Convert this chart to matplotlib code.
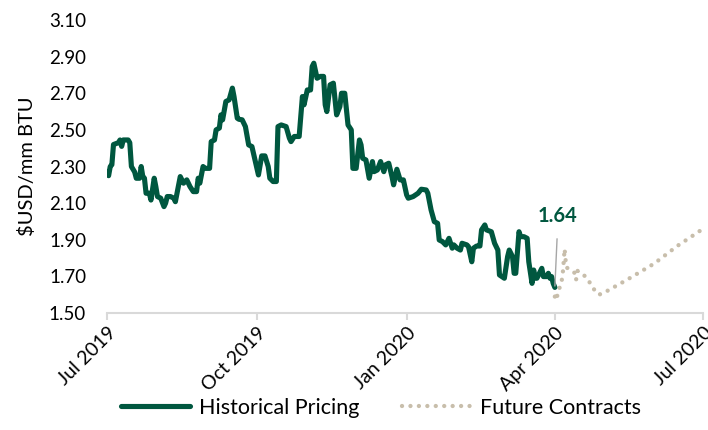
import matplotlib
matplotlib.use("Agg")
import matplotlib.pyplot as plt
import matplotlib.dates as mdates
import pandas as pd

# ---------------- data ----------------
hist_dates = [
    "2019-07-01", "2019-07-02", "2019-07-03", "2019-07-04", "2019-07-05", "2019-07-08", "2019-07-09",
    "2019-07-10", "2019-07-11", "2019-07-14", "2019-07-15", "2019-07-16", "2019-07-18", "2019-07-19",
    "2019-07-21", "2019-07-22", "2019-07-23", "2019-07-24", "2019-07-25", "2019-07-27", "2019-07-28",
    "2019-07-30", "2019-07-31", "2019-08-01", "2019-08-03", "2019-08-05", "2019-08-06", "2019-08-07",
    "2019-08-09", "2019-08-11", "2019-08-12", "2019-08-13", "2019-08-15", "2019-08-17", "2019-08-19",
    "2019-08-21", "2019-08-23", "2019-08-25", "2019-08-26", "2019-08-27", "2019-08-29", "2019-08-30",
    "2019-09-02", "2019-09-03", "2019-09-05", "2019-09-06", "2019-09-08", "2019-09-09", "2019-09-10",
    "2019-09-12", "2019-09-14", "2019-09-16", "2019-09-17", "2019-09-19", "2019-09-20", "2019-09-22",
    "2019-09-24", "2019-09-26", "2019-09-28", "2019-10-02", "2019-10-04", "2019-10-06", "2019-10-08",
    "2019-10-09", "2019-10-11", "2019-10-13", "2019-10-14", "2019-10-16", "2019-10-19", "2019-10-21",
    "2019-10-22", "2019-10-24", "2019-10-27", "2019-10-29", "2019-10-30", "2019-11-01", "2019-11-03",
    "2019-11-04", "2019-11-05", "2019-11-07", "2019-11-09", "2019-11-11", "2019-11-12", "2019-11-13",
    "2019-11-15", "2019-11-17", "2019-11-19", "2019-11-21", "2019-11-22", "2019-11-24", "2019-11-26",
    "2019-11-28", "2019-11-29", "2019-12-01", "2019-12-03", "2019-12-04", "2019-12-05", "2019-12-07",
    "2019-12-09", "2019-12-11", "2019-12-12", "2019-12-14", "2019-12-16", "2019-12-18", "2019-12-19",
    "2019-12-21", "2019-12-23", "2019-12-24", "2019-12-26", "2019-12-28", "2019-12-30", "2020-01-01",
    "2020-01-02", "2020-01-05", "2020-01-08", "2020-01-10", "2020-01-13", "2020-01-14", "2020-01-16",
    "2020-01-18", "2020-01-20", "2020-01-21", "2020-01-23", "2020-01-25", "2020-01-27", "2020-01-29",
    "2020-01-30", "2020-02-01", "2020-02-03", "2020-02-04", "2020-02-07", "2020-02-08", "2020-02-10",
    "2020-02-11", "2020-02-13", "2020-02-15", "2020-02-16", "2020-02-18", "2020-02-19", "2020-02-22",
    "2020-02-24", "2020-02-26", "2020-02-27", "2020-03-01", "2020-03-03", "2020-03-04", "2020-03-06",
    "2020-03-07", "2020-03-08", "2020-03-10", "2020-03-11", "2020-03-13", "2020-03-15", "2020-03-16",
    "2020-03-18", "2020-03-19", "2020-03-20", "2020-03-21", "2020-03-23", "2020-03-24", "2020-03-25",
    "2020-03-27", "2020-03-28", "2020-03-29", "2020-03-30", "2020-03-31", "2020-04-01",
]
hist_prices = [
    2.27, 2.25, 2.30, 2.31, 2.42, 2.43, 2.445,
    2.41, 2.445, 2.445, 2.43, 2.30, 2.27, 2.236,
    2.236, 2.30, 2.245, 2.236, 2.154, 2.154, 2.117,
    2.236, 2.19, 2.136, 2.127, 2.081, 2.10, 2.136,
    2.136, 2.127, 2.108, 2.154, 2.245, 2.209, 2.227,
    2.19, 2.163, 2.163, 2.236, 2.209, 2.30, 2.29,
    2.29, 2.436, 2.445, 2.50, 2.51, 2.582, 2.555,
    2.655, 2.664, 2.728, 2.682, 2.564, 2.558, 2.555,
    2.518, 2.418, 2.409, 2.254, 2.358, 2.358, 2.30,
    2.236, 2.218, 2.218, 2.518, 2.527, 2.518, 2.455,
    2.436, 2.464, 2.464, 2.682, 2.637, 2.718, 2.718,
    2.846, 2.864, 2.782, 2.792, 2.792, 2.637, 2.60,
    2.746, 2.755, 2.582, 2.627, 2.70, 2.70, 2.527,
    2.50, 2.29, 2.29, 2.445, 2.418, 2.345, 2.336,
    2.236, 2.327, 2.272, 2.281, 2.327, 2.272, 2.309,
    2.318, 2.245, 2.20, 2.285, 2.227, 2.227, 2.145,
    2.127, 2.136, 2.154, 2.176, 2.172, 2.154, 2.063,
    1.999, 1.99, 1.899, 1.89, 1.872, 1.908, 1.854,
    1.872, 1.854, 1.844, 1.881, 1.872, 1.862, 1.78,
    1.854, 1.866, 1.866, 1.954, 1.981, 1.954, 1.944,
    1.881, 1.844, 1.708, 1.69, 1.808, 1.844, 1.808,
    1.717, 1.717, 1.944, 1.917, 1.917, 1.908, 1.78,
    1.662, 1.735, 1.69, 1.69, 1.726, 1.744, 1.699,
    1.699, 1.717, 1.69, 1.699, 1.662, 1.64,
]

future_dates = [
    "2020-04-01", "2020-04-02", "2020-04-03", "2020-04-05", "2020-04-06", "2020-04-07",
    "2020-04-08", "2020-04-13", "2020-04-14", "2020-04-15", "2020-04-17", "2020-04-21",
    "2020-04-24", "2020-04-28", "2020-05-01", "2020-05-15", "2020-06-01", "2020-06-15",
    "2020-07-01",
]
future_prices = [
    1.59, 1.57, 1.62, 1.66, 1.73, 1.85,
    1.75, 1.72, 1.68, 1.73, 1.72, 1.69,
    1.64, 1.60, 1.61, 1.68, 1.77, 1.865,
    1.96,
]

last_price_label = "1.64"
y_ticks = [1.50, 1.70, 1.90, 2.10, 2.30, 2.50, 2.70, 2.90, 3.10]
series_names = ["Historical Pricing", "Future Contracts"]
y_label = "$USD/mm BTU"

# ---------------- style ----------------
GREEN = "#00573F"
TAN = "#C8BEAB"
AXIS_GRAY = "#D9D9D9"
plt.rcParams["font.family"] = ["Lato", "DejaVu Sans"]

hd = pd.to_datetime(hist_dates)
fd = pd.to_datetime(future_dates)

fig = plt.figure(figsize=(7.08, 4.30), dpi=100)
ax = fig.add_axes([0.1511, 0.272, 0.993 - 0.1511, 0.9535 - 0.272])

ax.plot(fd, future_prices, color=TAN, lw=3.1, linestyle=(0, (0.01, 1.95)),
        dash_capstyle="round", label=series_names[1], zorder=2)
ax.plot(hd, hist_prices, color=GREEN, lw=3.7, solid_joinstyle="round",
        solid_capstyle="round", label=series_names[0], zorder=3)

ax.set_xlim(pd.Timestamp("2019-07-01"), pd.Timestamp("2020-07-01"))
ax.set_ylim(1.50, 3.10)
ax.set_yticks(y_ticks)
ax.set_yticklabels([f"{v:.2f}" for v in y_ticks])

ax.xaxis.set_major_locator(mdates.MonthLocator(bymonth=[1, 4, 7, 10]))
ax.xaxis.set_major_formatter(mdates.DateFormatter("%b %Y"))

for s in ["left", "top", "right"]:
    ax.spines[s].set_visible(False)
ax.spines["bottom"].set_color(AXIS_GRAY)
ax.spines["bottom"].set_linewidth(1.5)

ax.tick_params(axis="y", length=0, pad=15, labelsize=13.5, labelcolor="#000000")
ax.tick_params(axis="x", length=5, width=1.5, color=AXIS_GRAY, direction="out",
               labelsize=14, pad=3)
for lbl in ax.get_xticklabels():
    lbl.set_rotation(45)
    lbl.set_ha("right")
    lbl.set_rotation_mode("anchor")

ax.set_ylabel(y_label, fontsize=14.5, labelpad=9)

# annotation for last price
ax.annotate(last_price_label, xy=(hd[-1], hist_prices[-1]), xytext=(2, 44),
            textcoords="offset points", ha="center", va="bottom",
            fontsize=14.5, fontweight="bold", color=GREEN,
            arrowprops=dict(arrowstyle="-", color="#A6A6A6", lw=1.0,
                            shrinkA=7, shrinkB=1, relpos=(0.5, 0.0)))

handles, labels = ax.get_legend_handles_labels()
order = [1, 0]
fig.legend([handles[i] for i in order], [labels[i] for i in order],
           loc="center", bbox_to_anchor=(0.538, 0.052), ncol=2, frameon=False,
           fontsize=15.5, handlelength=3.2, columnspacing=2.0, handletextpad=0.4)

fig.savefig("out.png", dpi=100)
